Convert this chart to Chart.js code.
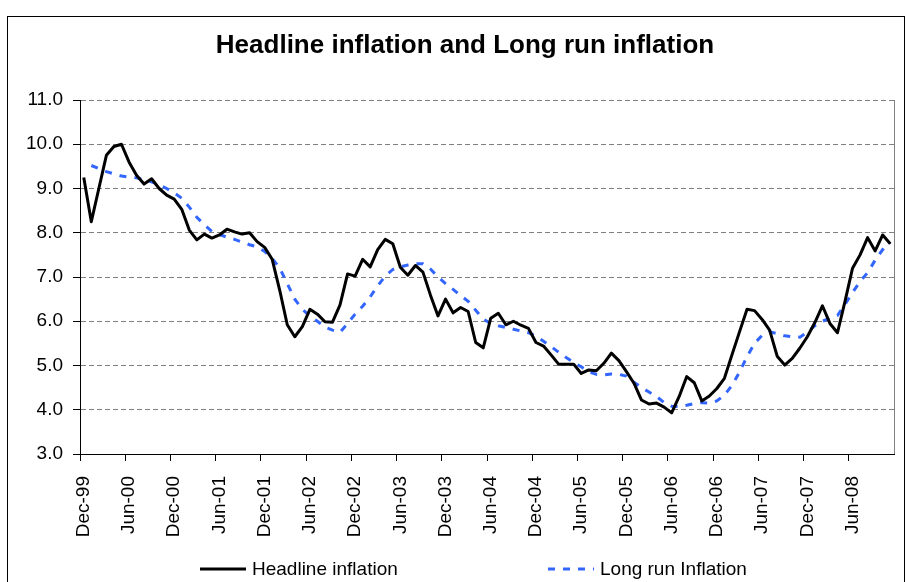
<!DOCTYPE html>
<html>
<head>
<meta charset="utf-8">
<script src="https://cdn.jsdelivr.net/npm/chart.js@4.4.1/dist/chart.umd.min.js"></script>
<style>
  html, body { margin: 0; padding: 0; background: #fff; }
  #wrap { width: 907px; height: 582px; }
</style>
</head>
<body>
<div id="wrap"><canvas id="chart" width="907" height="582"></canvas></div>
<script>
// monthly observations, Dec-99 .. Nov-08
const categories = [
  'Dec-99',
  'Jan-00','Feb-00','Mar-00','Apr-00','May-00','Jun-00','Jul-00','Aug-00','Sep-00','Oct-00','Nov-00','Dec-00',
  'Jan-01','Feb-01','Mar-01','Apr-01','May-01','Jun-01','Jul-01','Aug-01','Sep-01','Oct-01','Nov-01','Dec-01',
  'Jan-02','Feb-02','Mar-02','Apr-02','May-02','Jun-02','Jul-02','Aug-02','Sep-02','Oct-02','Nov-02','Dec-02',
  'Jan-03','Feb-03','Mar-03','Apr-03','May-03','Jun-03','Jul-03','Aug-03','Sep-03','Oct-03','Nov-03','Dec-03',
  'Jan-04','Feb-04','Mar-04','Apr-04','May-04','Jun-04','Jul-04','Aug-04','Sep-04','Oct-04','Nov-04','Dec-04',
  'Jan-05','Feb-05','Mar-05','Apr-05','May-05','Jun-05','Jul-05','Aug-05','Sep-05','Oct-05','Nov-05','Dec-05',
  'Jan-06','Feb-06','Mar-06','Apr-06','May-06','Jun-06','Jul-06','Aug-06','Sep-06','Oct-06','Nov-06','Dec-06',
  'Jan-07','Feb-07','Mar-07','Apr-07','May-07','Jun-07','Jul-07','Aug-07','Sep-07','Oct-07','Nov-07','Dec-07',
  'Jan-08','Feb-08','Mar-08','Apr-08','May-08','Jun-08','Jul-08','Aug-08','Sep-08','Oct-08','Nov-08'
];

const tickLabels = ['Dec-99','Jun-00','Dec-00','Jun-01','Dec-01','Jun-02','Dec-02','Jun-03','Dec-03',
  'Jun-04','Dec-04','Jun-05','Dec-05','Jun-06','Dec-06','Jun-07','Dec-07','Jun-08'];

const headline = [
  9.25,
  8.25, 9.0, 9.75, 9.95, 10.0, 9.6, 9.3, 9.1, 9.22, 9.0, 8.85, 8.76,
  8.53, 8.06, 7.84, 7.97, 7.88, 7.95, 8.08, 8.02, 7.97, 8.0, 7.8, 7.67,
  7.4, 6.7, 5.92, 5.65, 5.88, 6.27, 6.16, 5.99, 5.98, 6.37, 7.07, 7.02,
  7.4, 7.23, 7.62, 7.85, 7.75, 7.22, 7.04, 7.26, 7.11, 6.59, 6.12, 6.5,
  6.19, 6.31, 6.22, 5.52, 5.4, 6.07, 6.18, 5.92, 6.0, 5.91, 5.84, 5.52,
  5.44, 5.24, 5.03, 5.03, 5.03, 4.82, 4.9, 4.88, 5.05, 5.28, 5.11, 4.86,
  4.6, 4.22, 4.13, 4.15, 4.06, 3.93, 4.3, 4.75, 4.61, 4.2, 4.31, 4.48,
  4.71, 5.24, 5.76, 6.27, 6.24, 6.04, 5.8, 5.21, 5.01, 5.16, 5.39, 5.65,
  5.97, 6.35, 5.95, 5.74, 6.45, 7.2, 7.5, 7.89, 7.59, 7.95, 7.75
];

const longRun = [
  null,
  9.52, 9.45, 9.38, 9.33, 9.28, 9.26, 9.24, 9.2, 9.15, 9.08, 9.0, 8.9,
  8.78, 8.58, 8.35, 8.18, 8.03, 7.96, 7.9, 7.85, 7.79, 7.73, 7.68, 7.58,
  7.42, 7.2, 6.85, 6.5, 6.27, 6.12, 6.0, 5.87, 5.8, 5.75, 5.95, 6.16,
  6.34, 6.55, 6.8, 7.02, 7.17, 7.23, 7.27, 7.3, 7.3, 7.18, 7.0, 6.85,
  6.72, 6.58, 6.45, 6.25, 6.05, 5.95, 5.9, 5.86, 5.82, 5.78, 5.74, 5.66,
  5.55, 5.43, 5.3, 5.18, 5.07, 4.97, 4.86, 4.8, 4.79, 4.81, 4.8, 4.76,
  4.62, 4.5, 4.4, 4.3, 4.16, 4.08, 4.07, 4.1, 4.14, 4.16, 4.15, 4.2,
  4.33, 4.55, 4.85, 5.2, 5.5, 5.68, 5.76, 5.72, 5.67, 5.65, 5.64, 5.75,
  5.9, 6.0, 6.07, 6.13, 6.38, 6.65, 6.9, 7.1, 7.38, 7.62, 7.78
];

const TITLE = 'Headline inflation and Long run inflation';
const FONT = "'Liberation Sans', Arial, Helvetica, sans-serif";
const BLUE = '#3366ff';

// outer frame, title, right edge of plot area and the bottom legend
const framePlugin = {
  id: 'frame',
  beforeDraw(chart) {
    const ctx = chart.ctx;
    ctx.save();
    ctx.fillStyle = '#fff';
    ctx.fillRect(0, 0, chart.width, chart.height);
    ctx.restore();
  },
  afterDraw(chart) {
    const ctx = chart.ctx, a = chart.chartArea;
    ctx.save();
    ctx.strokeStyle = '#000';
    ctx.lineWidth = 1;
    ctx.strokeRect(7.5, 16.5, 897, 600);

    ctx.fillStyle = '#000';
    ctx.font = 'bold 26px ' + FONT;
    ctx.textAlign = 'center';
    ctx.textBaseline = 'middle';
    ctx.fillText(TITLE, 465, 46);

    ctx.strokeStyle = '#808080';
    ctx.beginPath();
    ctx.moveTo(Math.round(a.right) + 0.5, a.top);
    ctx.lineTo(Math.round(a.right) + 0.5, a.bottom);
    ctx.stroke();

    const items = [
      { x: 200, ds: chart.data.datasets[0] },
      { x: 548, ds: chart.data.datasets[1] }
    ];
    const y = 569;
    ctx.font = '19px ' + FONT;
    ctx.textAlign = 'left';
    items.forEach(function(it) {
      ctx.strokeStyle = it.ds.borderColor;
      ctx.lineWidth = it.ds.borderWidth;
      ctx.setLineDash(it.ds.borderDash || []);
      ctx.beginPath();
      ctx.moveTo(it.x, y);
      ctx.lineTo(it.x + 46, y);
      ctx.stroke();
      ctx.setLineDash([]);
      ctx.fillText(it.ds.label, it.x + 52, y + 1);
    });
    ctx.restore();
  }
};

new Chart(document.getElementById('chart'), {
  type: 'line',
  data: {
    labels: categories,
    datasets: [
      {
        label: 'Headline inflation',
        data: headline,
        borderColor: '#000',
        borderWidth: 3,
        borderJoinStyle: 'round',
        pointRadius: 0,
        tension: 0,
        fill: false
      },
      {
        label: 'Long run Inflation',
        data: longRun,
        borderColor: BLUE,
        borderWidth: 3,
        borderDash: [7, 8],
        pointRadius: 0,
        tension: 0,
        fill: false
      }
    ]
  },
  options: {
    responsive: false,
    animation: false,
    layout: { padding: { left: 8, right: 13, top: 100, bottom: 28 } },
    scales: {
      x: {
        type: 'category',
        offset: true,
        afterFit: function(s) { s.height = 100; s.paddingLeft = 0; s.paddingRight = 0; },
        grid: {
          offset: true,
          drawOnChartArea: false,
          tickLength: 7,
          color: function(c) { return c.index % 6 === 0 ? '#000' : 'rgba(0,0,0,0)'; }
        },
        border: { color: '#000', width: 1 },
        ticks: {
          autoSkip: false,
          maxRotation: 90,
          minRotation: 90,
          padding: 15,
          color: '#000',
          font: { family: FONT, size: 19 },
          callback: function(v, i) {
            const lab = categories[i];
            return tickLabels.includes(lab) ? lab : '';
          }
        }
      },
      y: {
        min: 3,
        max: 11,
        afterFit: function(s) { s.width = 72; },
        grid: {
          color: '#808080',
          lineWidth: 1,
          tickLength: 7,
          tickColor: '#000'
        },
        border: { color: '#000', width: 1, dash: [5, 3] },
        ticks: {
          stepSize: 1,
          padding: 10,
          color: '#000',
          font: { family: FONT, size: 19 },
          callback: function(v) { return Number(v).toFixed(1); }
        }
      }
    },
    plugins: {
      legend: { display: false },
      tooltip: { enabled: false },
      title: { display: false }
    }
  },
  plugins: [framePlugin]
});
</script>
</body>
</html>
